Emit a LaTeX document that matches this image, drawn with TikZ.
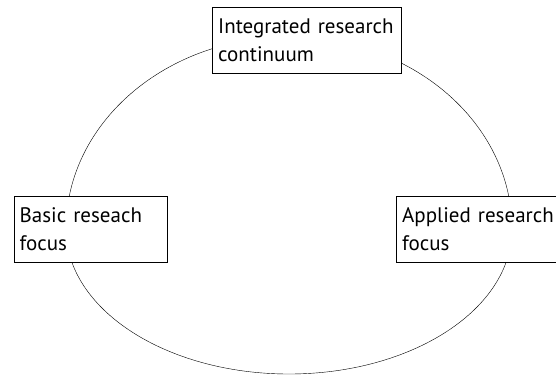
\documentclass[tikz,border=0pt]{standalone}
\usepackage{fontspec}
\setmainfont{PT Sans}
\hyphenpenalty=10000
\begin{document}
\begin{tikzpicture}[
     x=1pt,y=1pt,
     focus/.style={draw,fill=white,anchor=north west,align=left,
       inner xsep=6pt,inner ysep=0pt,minimum height=66pt,
       font=\fontsize{21}{28}\selectfont}
   ]
   \path[use as bounding box] (0,0) rectangle (556,378);
   % Research loop.
   \draw (512,149) arc[start angle=0,end angle=180,x radius=223,y radius=192]
     arc[start angle=180,end angle=360,x radius=223,y radius=145];
   % Boxes.
   \node[focus,text width=177pt] (integrated) at (212,371) {Integrated research\\continuum};
   \node[focus,text width=141pt] (basic) at (13.5,182) {Basic reseach\\focus};
   \node[focus,text width=158pt] (applied) at (396,182) {Applied research\\focus};
 \end{tikzpicture}
\end{document}
